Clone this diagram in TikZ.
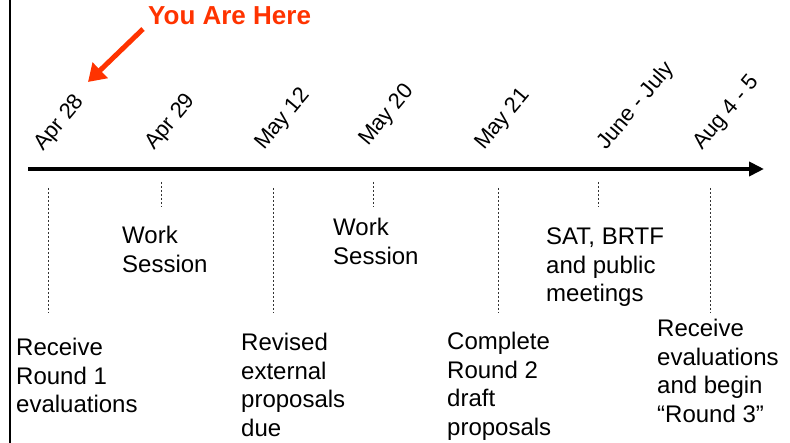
\documentclass[tikz,border=0pt]{standalone}
\usepackage{fontspec}
\setmainfont{Liberation Sans}
\usetikzlibrary{arrows.meta,positioning}
\definecolor{herered}{RGB}{255,51,0}

\begin{document}
\begin{tikzpicture}[x=1pt, y=-1pt,
    datelbl/.style={rotate=50, anchor=base west, inner sep=0pt, font=\fontsize{22}{26}\selectfont},
    eventlbl/.style={anchor=north west, inner sep=0pt, align=left, font=\fontsize{24}{28.5}\selectfont},
    tickline/.style={dash pattern=on 2pt off 2pt, line width=0.7pt, black!80}]
    \useasboundingbox (0,0) rectangle (790,443);

    % Frame edge
    \draw[line width=2pt] (10,0) -- (10,443);

    % Time axis
    \coordinate (axisstart) at (28,169);
    \coordinate (axisend) at (764,169);
    \draw[line width=4pt, -{Triangle[length=15pt,width=14pt]}] (axisstart) -- (axisend);

    % Dates
    \foreach \x/\y/\d in {43/152/Apr 28,154/151/Apr 29,264/151/May 12,368/147/May 20,484/151/May 21,606/151/June - July,702/151/Aug 4 - 5} {
        \node[datelbl] (date\x) at (\x,\y) {\d};
    }

    % Ticks: long ones point to events below, short ones to work periods
    \foreach \x in {48,273,498,710} {
        \draw[tickline] (\x,188) -- (\x,313);
    }
    \foreach \x in {161,373,598} {
        \draw[tickline] (\x,182) -- (\x,207);
    }

    % Work periods
    \node[eventlbl] (work1) at (122,226) {Work\\Session};
    \node[eventlbl] (work2) at (333,218) {Work\\Session};
    \node[eventlbl] (meetings) at (546,228) {SAT, BRTF\\and public\\meetings};

    % Events
    \node[eventlbl] (round1) at (16,338) {Receive\\Round 1\\evaluations};
    \node[eventlbl] (revised) at (241,333) {Revised\\external\\proposals\\due};
    \node[eventlbl] (round2) at (447,332) {Complete\\Round 2\\draft\\proposals};
    \node[eventlbl] (round3) at (657,319) {Receive\\evaluations\\and begin\\“Round 3”};

    % You are here
    \node[anchor=base west, inner sep=0pt, text=herered, font=\fontsize{26}{30}\selectfont\bfseries] (here) at (148,25) {You Are Here};
    \coordinate (herefrom) at (143,29);
    \coordinate (hereto) at (88,82);
    \draw[herered, line width=5pt, -{Triangle[length=17pt,width=21pt]}] (herefrom) -- (hereto);
\end{tikzpicture}
\end{document}
